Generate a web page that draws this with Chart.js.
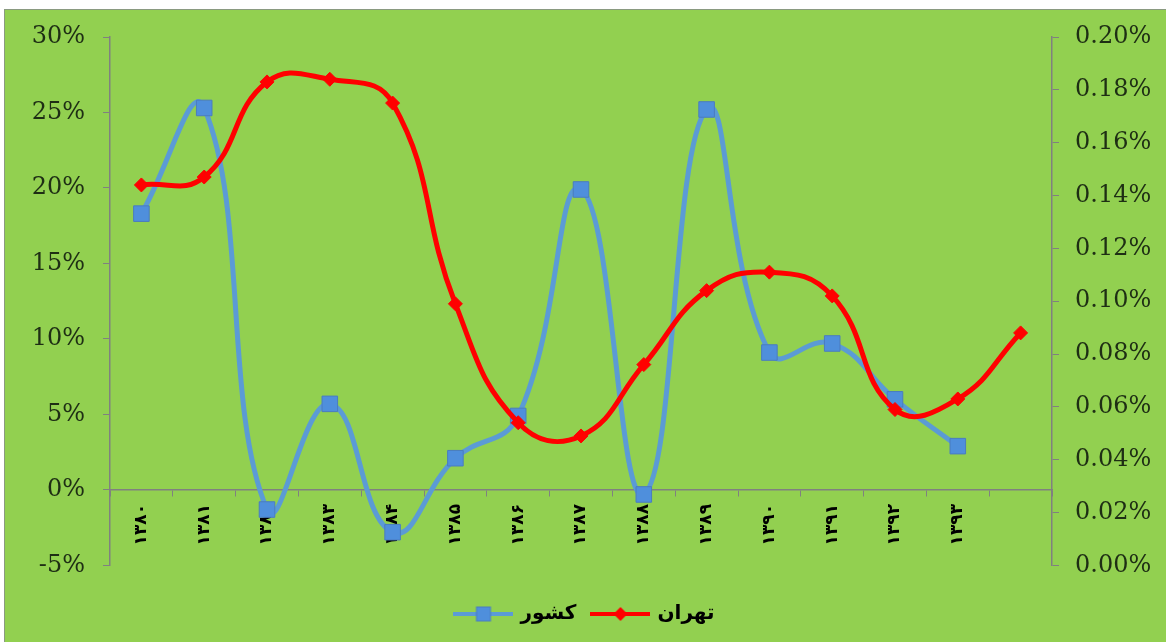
<!DOCTYPE html>
<html>
<head>
<meta charset="utf-8">
<script src="https://cdn.jsdelivr.net/npm/chart.js@4/dist/chart.umd.min.js"></script>
<style>
  html, body { margin: 0; padding: 0; background: #ffffff; }
  #box {
    position: absolute; left: 4px; top: 9px;
    width: 1161px; height: 632px;
    background: #92d050;
    border-top: 1px solid #8a9a80; border-left: 1px solid #8a9a80;
  }
</style>
</head>
<body>
<div id="box"><canvas id="chart" width="1161" height="632"></canvas></div>
<script>
// years (last slot has no label, only Tehran has a value there)
const years = ['۱۳۸۰', '۱۳۸۱', '۱۳۸۲', '۱۳۸۳', '۱۳۸۴', '۱۳۸۵', '۱۳۸۶', '۱۳۸۷',
               '۱۳۸۸', '۱۳۸۹', '۱۳۹۰', '۱۳۹۱', '۱۳۹۲', '۱۳۹۳', ''];
// کشور - left axis, percent
const country = [18.3, 25.3, -1.3, 5.7, -2.8, 2.1, 4.9, 19.9, -0.3, 25.2, 9.1, 9.7, 6.0, 2.9, null];
// تهران - right axis, percent
const tehran = [0.144, 0.147, 0.183, 0.184, 0.175, 0.099, 0.054, 0.049, 0.076, 0.104, 0.111, 0.102, 0.059, 0.063, 0.088];

const leftTicks = { min: -5, max: 30, step: 5 };
const rightTicks = { min: 0, max: 0.2, step: 0.02 };

const BLUE = '#5b9bd5';
const RED = '#ff0000';
const AXIS = '#808080';
const TEXT = '#1e2e14';

// small line+marker pictures for the legend
function legendIcon(color, marker) {
    const c = document.createElement('canvas');
    c.width = 60; c.height = 20;
    const g = c.getContext('2d');
    g.strokeStyle = color;
    g.lineWidth = 4;
    g.beginPath(); g.moveTo(0, 10); g.lineTo(60, 10); g.stroke();
    if (marker === 'square') {
        g.fillStyle = '#4f8fdc';
        g.fillRect(23, 3, 14, 14);
        g.strokeStyle = '#4a7cc0'; g.lineWidth = 1;
        g.strokeRect(23, 3, 14, 14);
    } else {
        g.fillStyle = color;
        g.beginPath();
        g.moveTo(30, 3); g.lineTo(37, 10); g.lineTo(30, 17); g.lineTo(23, 10);
        g.closePath(); g.fill();
    }
    return c;
}
const iconCountry = legendIcon(BLUE, 'square');
const iconTehran = legendIcon(RED, 'diamond');

// keep the plot area where the layout padding puts it
function fixLeft(s) { s.width = 105; s.paddingTop = 0; s.paddingBottom = 0; }
function fixRight(s) { s.width = 114; s.paddingTop = 0; s.paddingBottom = 0; }

const ctx = document.getElementById('chart').getContext('2d');
new Chart(ctx, {
    type: 'line',
    data: {
        labels: years,
        datasets: [{
            label: 'کشور',
            data: country,
            yAxisID: 'y',
            borderColor: BLUE,
            borderWidth: 5,
            tension: 0.45,
            pointStyle: 'rect',
            pointRadius: 11,
            pointBackgroundColor: '#4f8fdc',
            pointBorderColor: '#4a7cc0',
            pointBorderWidth: 1,
            order: 1
        }, {
            label: 'تهران',
            data: tehran,
            yAxisID: 'y1',
            borderColor: RED,
            borderWidth: 5,
            tension: 0.45,
            pointStyle: 'rectRot',
            pointRadius: 7,
            pointBackgroundColor: RED,
            pointBorderColor: RED,
            pointBorderWidth: 1,
            order: 0
        }]
    },
    options: {
        responsive: false,
        animation: false,
        layout: { padding: { top: 27, bottom: 8, left: 0, right: 0 } },
        plugins: {
            tooltip: { enabled: false },
            legend: {
                position: 'bottom',
                title: { display: true, text: ' ', padding: 0, font: { size: 18 } },
                labels: {
                    usePointStyle: true,
                    pointStyleWidth: 54,
                    padding: 17,
                    color: '#000',
                    font: { family: 'DejaVu Sans', size: 20, weight: 'bold' },
                    generateLabels: function (chart) {
                        return [
                            { text: 'کشور', pointStyle: iconCountry, fillStyle: BLUE, strokeStyle: BLUE, lineWidth: 0, datasetIndex: 0, fontColor: '#000' },
                            { text: 'تهران', pointStyle: iconTehran, fillStyle: RED, strokeStyle: RED, lineWidth: 0, datasetIndex: 1, fontColor: '#000' }
                        ];
                    }
                }
            }
        },
        scales: {
            x: {
                position: { y: 0 },
                offset: true,
                grid: { display: true, drawOnChartArea: false, offset: true, tickLength: 6, color: AXIS },
                border: { color: AXIS, width: 1.5 },
                ticks: {
                    autoSkip: false,
                    minRotation: 90,
                    maxRotation: 90,
                    padding: 8,
                    color: '#000',
                    font: { family: 'DejaVu Sans', size: 17, weight: 'bold' }
                }
            },
            y: {
                position: 'left',
                min: leftTicks.min,
                max: leftTicks.max,
                grid: { drawOnChartArea: false, tickLength: 7, color: AXIS },
                border: { color: AXIS, width: 1.5 },
                ticks: {
                    stepSize: leftTicks.step,
                    padding: 18,
                    color: TEXT,
                    font: { family: 'DejaVu Serif', size: 24 },
                    callback: v => v + '%'
                },
                afterFit: fixLeft
            },
            y1: {
                position: 'right',
                min: rightTicks.min,
                max: rightTicks.max,
                grid: { drawOnChartArea: false, tickLength: 7, color: AXIS },
                border: { color: AXIS, width: 1.5 },
                ticks: {
                    stepSize: rightTicks.step,
                    padding: 16,
                    color: TEXT,
                    font: { family: 'DejaVu Serif', size: 24 },
                    callback: v => v.toFixed(2) + '%'
                },
                afterFit: fixRight
            }
        }
    }
});
</script>
</body>
</html>
